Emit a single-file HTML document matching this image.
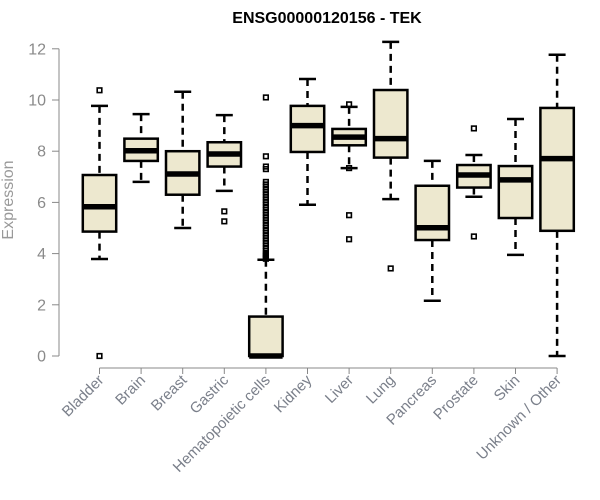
<!DOCTYPE html>
<html><head><meta charset="utf-8"><style>body{margin:0;background:#fff}svg{display:block}</style></head>
<body>
<svg id="chart" width="600" height="500" xmlns="http://www.w3.org/2000/svg" font-family="Liberation Sans, Arial, sans-serif">
<text x="327" y="23" text-anchor="middle" font-weight="bold" font-size="16">ENSG00000120156 - TEK</text>
<text transform="translate(13,200) rotate(-90)" text-anchor="middle" font-size="16" fill="#999">Expression</text>
<g id="g"></g>
</svg>
<script>
const categories=["Bladder","Brain","Breast","Gastric","Hematopoietic cells","Kidney","Liver","Lung","Pancreas","Prostate","Skin","Unknown / Other"];
const lowWhisker=[3.79,6.8,5.0,6.45,0,5.91,7.34,6.13,2.16,6.22,3.95,0];
const q1=[4.86,7.62,6.3,7.4,0,7.97,8.23,7.75,4.53,6.58,5.39,4.89];
const median=[5.83,8.02,7.11,7.89,0,9.0,8.55,8.49,5.01,7.07,6.88,7.71];
const q3=[7.07,8.49,8.0,8.35,1.54,9.77,8.87,10.39,6.65,7.46,7.42,9.69];
const highWhisker=[9.77,9.45,10.32,9.41,3.76,10.82,9.73,12.27,7.62,7.85,9.26,11.77];
const outliers=[[10.38,0],[],[],[5.65,5.26],[10.1,7.8,7.4,7.3,6.8,6.7,6.6,6.5,6.4,6.3,6.2,6.1,6.0,5.9,5.8,5.7,5.6,5.5,5.4,5.3,5.2,5.1,5.0,4.9,4.8,4.7,4.6,4.5,4.4,4.3,4.2,4.1,4.0,3.95,3.9,3.85,3.8],[],[9.83,7.34,5.5,4.56],[3.42],[],[8.89,4.67],[],[]];
const yTicks=[0,2,4,6,8,10,12];
const NS="http://www.w3.org/2000/svg";
const g=document.getElementById('g');
const y=v=>356-v*25.6;
const x=i=>99.5+i*41.6;
function mk(t,a){const e=document.createElementNS(NS,t);for(const k in a)e.setAttribute(k,a[k]);g.appendChild(e);return e;}
let ax=mk('line',{x1:59,x2:59,y1:y(0),y2:y(12),stroke:'#888'});


yTicks.forEach(t=>{
 let l=mk('line',{x1:52,x2:59,y1:y(t),y2:y(t),stroke:'#888'});
 
 
 let tx=mk('text',{x:46,y:y(t)+5.5,'text-anchor':'end','font-size':16,fill:'#8a8a8a'});tx.textContent=t;
 
 
});
let xa=mk('line',{x1:x(0),x2:x(11),y1:368,y2:368,stroke:'#888'});


categories.forEach((c,i)=>{
 const cx=x(i),hw=16.7;
 let t=mk('line',{x1:cx,x2:cx,y1:368,y2:374,stroke:'#888'});
 
 
 let lb=mk('text',{transform:`translate(${cx+5},${381}) rotate(-45)`,'text-anchor':'end','font-size':15,fill:'#7a7f8a'});lb.textContent=c;
 
 
 let w1=mk('line',{x1:cx,x2:cx,y1:y(highWhisker[i]),y2:y(q3[i]),stroke:'#000','stroke-width':2.5,'stroke-dasharray':'7,5'});
 
 
 let w2=mk('line',{x1:cx,x2:cx,y1:y(q1[i]),y2:y(lowWhisker[i]),stroke:'#000','stroke-width':2.5,'stroke-dasharray':'7,5'});
 
 
 let c1=mk('line',{x1:cx-8.5,x2:cx+8.5,y1:y(highWhisker[i]),y2:y(highWhisker[i]),stroke:'#000','stroke-width':2.5});
 
 
 let c2=mk('line',{x1:cx-8.5,x2:cx+8.5,y1:y(lowWhisker[i]),y2:y(lowWhisker[i]),stroke:'#000','stroke-width':2.5});
 
 
 let b=mk('rect',{x:cx-hw,y:y(q3[i]),width:2*hw,height:Math.max(y(q1[i])-y(q3[i]),0),fill:'#ede8cf',stroke:'#000','stroke-width':2.5});
 
 
 let m=mk('line',{x1:cx-hw,x2:cx+hw,y1:y(median[i]),y2:y(median[i]),stroke:'#000','stroke-width':5.5});
 
 
 outliers[i].forEach(v=>{
  let o=mk('rect',{x:cx-2.3,y:y(v)-2.3,width:4.6,height:4.6,fill:'none',stroke:'#000','stroke-width':1.6});
  
  
 });
});
</script>
</body></html>
